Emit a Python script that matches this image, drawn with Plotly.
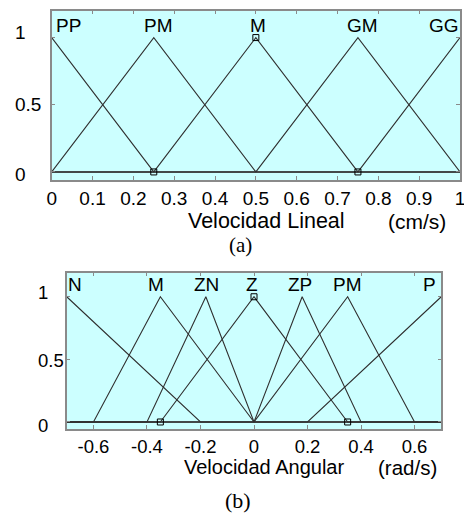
import plotly.graph_objects as go

# ---------------- (a) Velocidad Lineal ----------------
lin_names = ["PP", "PM", "M", "GM", "GG"]
lin_x = [[0, 0.25, 1],
         [0, 0.25, 0.5, 1],
         [0, 0.25, 0.5, 0.75, 1],
         [0, 0.5, 0.75, 1],
         [0, 0.75, 1]]
lin_y = [[1, 0, 0],
         [0, 1, 0, 0],
         [0, 0, 1, 0, 0],
         [0, 0, 1, 0],
         [0, 0, 1]]
lin_label_x = [0.041, 0.262, 0.505, 0.762, 0.96]
lin_label_y = 1.087
lin_mark_x = [0.25, 0.5, 0.75]
lin_mark_y = [0, 1, 0]
lin_xticks = [0, 0.1, 0.2, 0.3, 0.4, 0.5, 0.6, 0.7, 0.8, 0.9, 1]
lin_xticklabels = ["0", "0.1", "0.2", "0.3", "0.4", "0.5", "0.6", "0.7", "0.8", "0.9", "1"]
lin_yticks = [1, 0.5, 0]
lin_yticklabels = ["1", "0.5", "0"]
lin_title = "Velocidad Lineal"
lin_unit = "(cm/s)"

# ---------------- (b) Velocidad Angular ----------------
ang_names = ["N", "M", "ZN", "Z", "ZP", "PM", "P"]
ang_x = [[-0.7, -0.2, 0.7],
         [-0.7, -0.6, -0.35, 0, 0.7],
         [-0.7, -0.4, -0.18, 0, 0.7],
         [-0.7, -0.35, 0, 0.35, 0.7],
         [-0.7, 0, 0.18, 0.4, 0.7],
         [-0.7, 0, 0.35, 0.6, 0.7],
         [-0.7, 0.2, 0.7]]
ang_y = [[1, 0, 0],
         [0, 0, 1, 0, 0],
         [0, 0, 1, 0, 0],
         [0, 0, 1, 0, 0],
         [0, 0, 1, 0, 0],
         [0, 0, 1, 0, 0],
         [0, 0, 1]]
ang_label_x = [-0.67, -0.367, -0.176, -0.009, 0.172, 0.349, 0.656]
ang_label_y = 1.10
ang_mark_x = [-0.35, 0, 0.35]
ang_mark_y = [0, 1, 0]
ang_xticks = [-0.6, -0.4, -0.2, 0, 0.2, 0.4, 0.6]
ang_xticklabels = ["-0.6", "-0.4", "-0.2", "0", "0.2", "0.4", "0.6"]
ang_yticks = [1, 0.5, 0]
ang_yticklabels = ["1", "0.5", "0"]
ang_title = "Velocidad Angular"
ang_unit = "(rad/s)"

W, H = 464, 513
SANS = "Liberation Sans, Arial, sans-serif"
SERIF = "Liberation Serif, Times New Roman, serif"
LINE = "#303030"
FRAME = "#8a8a8a"

fig = go.Figure()

for xs, ys in zip(lin_x, lin_y):
    fig.add_trace(go.Scatter(x=xs, y=ys, mode="lines", xaxis="x", yaxis="y",
                             line=dict(color=LINE, width=1.1), showlegend=False,
                             hoverinfo="skip", cliponaxis=False))
fig.add_trace(go.Scatter(x=lin_mark_x, y=lin_mark_y, mode="markers", xaxis="x", yaxis="y",
                         marker=dict(symbol="square-open", size=6, color="black",
                                     line=dict(width=1, color="black")),
                         showlegend=False, cliponaxis=False))

for xs, ys in zip(ang_x, ang_y):
    fig.add_trace(go.Scatter(x=xs, y=ys, mode="lines", xaxis="x2", yaxis="y2",
                             line=dict(color=LINE, width=1.1), showlegend=False,
                             hoverinfo="skip", cliponaxis=False))
fig.add_trace(go.Scatter(x=ang_mark_x, y=ang_mark_y, mode="markers", xaxis="x2", yaxis="y2",
                         marker=dict(symbol="square-open", size=6, color="black",
                                     line=dict(width=1, color="black")),
                         showlegend=False, cliponaxis=False))

ax_common = dict(showline=True, linecolor=FRAME, linewidth=1.5, mirror="ticks",
                 ticks="inside", ticklen=4, tickcolor=FRAME, tickwidth=1,
                 showgrid=False, zeroline=False, automargin=False)

annotations = []
C = dict(xanchor="center", yanchor="middle", showarrow=False)
# membership labels
for name, lx in zip(lin_names, lin_label_x):
    annotations.append(dict(x=lx, y=lin_label_y, xref="x", yref="y", text=name,
                            font=dict(family=SANS, size=19, color="black"), **C))
for name, lx in zip(ang_names, ang_label_x):
    annotations.append(dict(x=lx, y=ang_label_y, xref="x2", yref="y2", text=name,
                            font=dict(family=SANS, size=19, color="black"), **C))
# y tick labels (left aligned, as in the reference)
yshift_map = {1: 5, 0.5: 0, 0: -3}
for v, t in zip(lin_yticks, lin_yticklabels):
    annotations.append(dict(x=13 / W, y=v, xref="paper", yref="y", text=t, xanchor="left",
                            yanchor="middle", yshift=yshift_map[v], showarrow=False,
                            font=dict(family=SANS, size=19, color="black")))
for v, t in zip(ang_yticks, ang_yticklabels):
    annotations.append(dict(x=36 / W, y=v, xref="paper", yref="y2", text=t, xanchor="left",
                            yanchor="middle", yshift=yshift_map[v] - 1, showarrow=False,
                            font=dict(family=SANS, size=18.5, color="black")))
# axis titles
annotations += [
    dict(x=266 / W, y=1 - 221 / H, xref="paper", yref="paper", text=lin_title,
         font=dict(family=SANS, size=21.5, color="black"), **C),
    dict(x=417 / W, y=1 - 221 / H, xref="paper", yref="paper", text=lin_unit,
         font=dict(family=SANS, size=21, color="black"), **C),
    dict(x=240 / W, y=1 - 245 / H, xref="paper", yref="paper", text="(a)",
         font=dict(family=SERIF, size=21, color="black"), **C),
    dict(x=264 / W, y=1 - 467 / H, xref="paper", yref="paper", text=ang_title,
         font=dict(family=SANS, size=20, color="black"), **C),
    dict(x=407 / W, y=1 - 467 / H, xref="paper", yref="paper", text=ang_unit,
         font=dict(family=SANS, size=20.5, color="black"), **C),
    dict(x=238 / W, y=1 - 500 / H, xref="paper", yref="paper", text="(b)",
         font=dict(family=SERIF, size=22, color="black"), **C),
]

fig.update_layout(
    width=W, height=H,
    margin=dict(l=0, r=0, t=0, b=0, autoexpand=False),
    paper_bgcolor="white",
    plot_bgcolor="#ccffff",
    showlegend=False,
    xaxis=dict(domain=[51.7 / W, 460 / W], range=[0, 1], anchor="y",
               tickvals=lin_xticks, ticktext=lin_xticklabels, ticklabeloverflow="allow",
               tickfont=dict(family=SANS, size=19, color="black"), **ax_common),
    yaxis=dict(domain=[1 - 180 / H, 1 - 10.7 / H], range=[-0.06, 1.2], anchor="x",
               tickvals=lin_yticks, showticklabels=False, **ax_common),
    xaxis2=dict(domain=[66.7 / W, 441.3 / W], range=[-0.7, 0.7], anchor="y2",
                tickvals=ang_xticks, ticktext=ang_xticklabels, ticklabeloverflow="allow",
                tickfont=dict(family=SANS, size=18.5, color="black"), **ax_common),
    yaxis2=dict(domain=[1 - 429 / H, 1 - 272.7 / H], range=[-0.056, 1.192], anchor="x2",
                tickvals=ang_yticks, showticklabels=False, **ax_common),
    annotations=annotations,
)

fig.write_html("out.html", config={"displayModeBar": False},
               post_script="document.body.style.margin='0';document.body.style.overflow='hidden';")
